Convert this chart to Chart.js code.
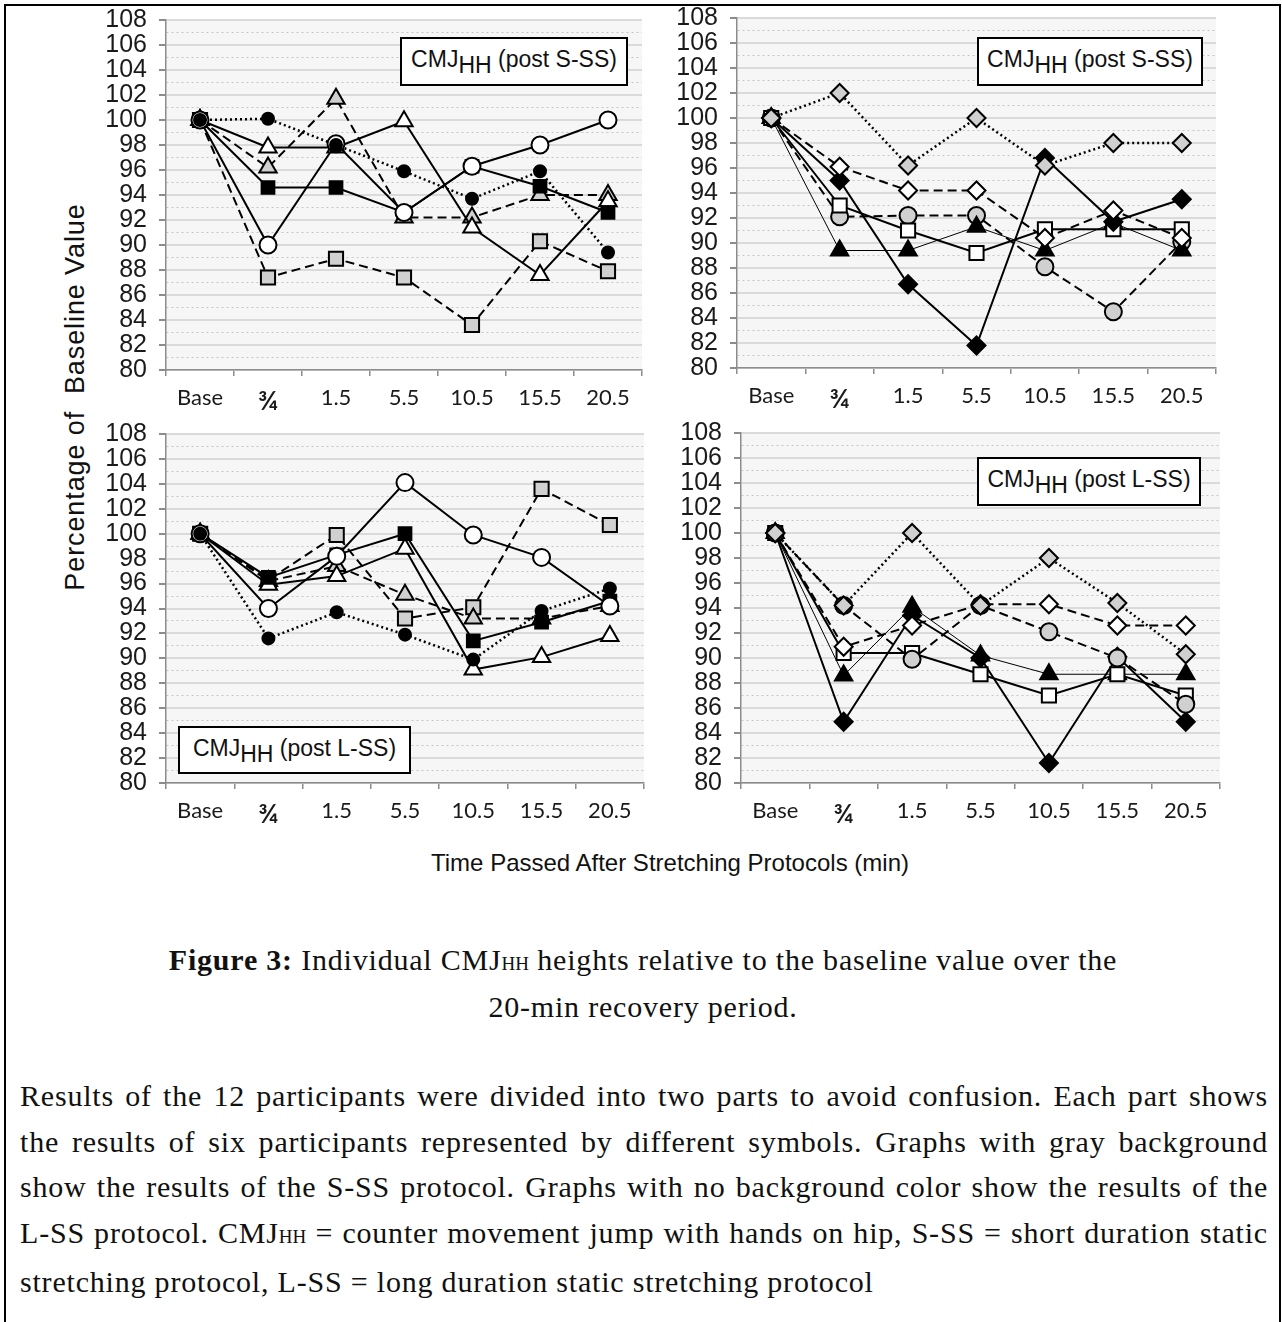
<!DOCTYPE html>
<html>
<head>
<meta charset="utf-8">
<script src="https://cdn.jsdelivr.net/npm/chart.js@4.4.0/dist/chart.umd.min.js"></script>
<style>
  body { margin: 0; background: #fff; width: 1282px; height: 1322px; position: relative; overflow: hidden; }
  #frame { position: absolute; left: 4px; top: 4px; width: 1273px; height: 1340px; border: 2px solid #000; }
  canvas { position: absolute; }
  .tag { position: absolute; background: #fff; border: 2px solid #000; box-sizing: border-box;
         font: 23px 'Liberation Sans', Arial, sans-serif; color: #111; white-space: nowrap;
         text-align: center; line-height: 40px; }
  .tag sub { font-size: 23px; vertical-align: -6px; line-height: 0; }
  #ytitle { position: absolute; left: -134px; top: 381px; width: 420px; height: 32px; text-align: center;
            font: 27px 'Liberation Sans', Arial, sans-serif; color: #111; letter-spacing: 0.9px;
            transform: rotate(-90deg); white-space: pre; }
  #xtitle { position: absolute; left: 370px; top: 849px; width: 600px; text-align: center;
            font: 24px 'Liberation Sans', Arial, sans-serif; color: #111; }
  #caption { position: absolute; left: 0; top: 938px; width: 1286px; text-align: center;
             font: 30px 'Liberation Serif', serif; color: #111; line-height: 43px; letter-spacing: 0.8px; }
  #para { position: absolute; left: 20px; top: 1073px; width: 1248px; letter-spacing: 0.8px;
          font: 30px 'Liberation Serif', serif; color: #111; line-height: 45.5px; }
  #para .j { text-align: justify; text-align-last: justify; }
  .sc { font-size: 19px; letter-spacing: 0; }
</style>
</head>
<body>
<div id="frame"></div>
<canvas id="c1"></canvas>
<canvas id="c2"></canvas>
<canvas id="c3"></canvas>
<canvas id="c4"></canvas>

<div class="tag" style="left:400px;top:37px;width:228px;height:49px;"><span>CMJ<sub>HH</sub> (post S-SS)</span></div>
<div class="tag" style="left:977px;top:37px;width:226px;height:49px;"><span>CMJ<sub>HH</sub> (post S-SS)</span></div>
<div class="tag" style="left:178px;top:726px;width:233px;height:48px;"><span>CMJ<sub>HH</sub> (post L-SS)</span></div>
<div class="tag" style="left:977px;top:457px;width:224px;height:49px;"><span>CMJ<sub>HH</sub> (post L-SS)</span></div>

<div id="ytitle">Percentage of  Baseline Value</div>
<div id="xtitle">Time Passed After Stretching Protocols (min)</div>

<div id="caption"><b>Figure 3:</b> Individual CMJ<span class="sc">HH</span> heights relative to the baseline value over the<br>20-min recovery period.</div>

<div id="para">
  <div class="j">Results of the 12 participants were divided into two parts to avoid confusion. Each part shows</div>
  <div class="j">the results of six participants represented by different symbols. Graphs with gray background</div>
  <div class="j">show the results of the S-SS protocol. Graphs with no background color show the results of the</div>
  <div class="j">L-SS protocol. CMJ<span class="sc">HH</span> = counter movement jump with hands on hip, S-SS = short duration static</div>
  <div>stretching protocol, L-SS = long duration static stretching protocol</div>
</div>

<script>
const categories = ['Base', '¾', '1.5', '5.5', '10.5', '15.5', '20.5'];
const yMin = 80;
const yMax = 108;

// post S-SS, participants 1-6 (top left)
const ssA_filledCircle = [100, 100.1, 98, 95.9, 93.7, 95.9, 89.4];
const ssA_openCircle   = [100, 90, 98.1, 92.6, 96.3, 98, 100];
const ssA_filledSquare = [100, 94.6, 94.6, 92.6, 96.3, 94.7, 92.6];
const ssA_openTriangle = [100, 97.8, 97.8, 99.9, 91.4, 87.6, 93.5];
const ssA_grayTriangle = [100, 96.2, 101.7, 92.2, 92.2, 94, 94];
const ssA_graySquare   = [100, 87.4, 88.9, 87.4, 83.6, 90.3, 87.9];

// post S-SS, participants 7-12 (top right)
const ssB_grayDiamond  = [100, 102, 96.2, 100, 96.2, 98, 98];
const ssB_openDiamond  = [100, 96.1, 94.2, 94.2, 90.4, 92.6, 90.4];
const ssB_blackDiamond = [100, 95, 86.7, 81.8, 96.8, 91.7, 93.5];
const ssB_openSquare   = [100, 93, 91, 89.2, 91.1, 91.1, 91.1];
const ssB_blackTriangle = [100, 89.4, 89.4, 91.3, 89.4, 91.6, 89.4];
const ssB_grayCircle   = [100, 92.1, 92.2, 92.2, 88.1, 84.5, 90.1];

// post L-SS, participants 1-6 (bottom left)
const lsA_filledCircle = [100, 91.6, 93.7, 91.9, 89.9, 93.8, 95.6];
const lsA_openCircle   = [100, 94, 98.2, 104.1, 99.9, 98.1, 94.2];
const lsA_filledSquare = [100, 96.5, 98.3, 100, 91.4, 92.9, 94.6];
const lsA_openTriangle = [100, 95.9, 96.6, 98.8, 89.1, 90.1, 91.8];
const lsA_grayTriangle = [100, 96.2, 97.4, 95.1, 93.2, 93.2, 94.2];
const lsA_graySquare   = [100, 96.3, 99.9, 93.2, 94.1, 103.6, 100.7];

// post L-SS, participants 7-12 (bottom right)
const lsB_grayDiamond  = [100, 94.2, 100, 94.2, 98, 94.4, 90.3];
const lsB_grayCircle   = [100, 94.2, 89.9, 94.2, 92.1, 90, 86.3];
const lsB_openDiamond  = [100, 90.9, 92.6, 94.3, 94.3, 92.6, 92.6];
const lsB_openSquare   = [100, 90.4, 90.4, 88.7, 87, 88.7, 87];
const lsB_blackTriangle = [100, 88.6, 94.1, 90.2, 88.7, 88.7, 88.7];
const lsB_blackDiamond = [100, 84.9, 93.4, 90, 81.6, 90.1, 84.9];

const GRAY = '#d0d0d0';
const DOT = [2, 3];
const DASH = [9, 5];
const looks = {
    dotCircle:   { style: 'circle',   r: 6,  fill: '#000', dash: DOT,  w: 2.5 },
    openCircle:  { style: 'circle',   r: 8.5, fill: '#fff', dash: [],  w: 2 },
    blackSquare: { style: 'rect',     r: 9,  fill: '#000', dash: [],   w: 2 },
    openTri:     { style: 'triangle', r: 10, fill: '#fff', dash: [],   w: 2 },
    grayTri:     { style: 'triangle', r: 10, fill: GRAY,   dash: DASH, w: 2 },
    graySquare:  { style: 'rect',     r: 10, fill: GRAY,   dash: DASH, w: 2 },
    grayDiamond: { style: 'rectRot',  r: 9,  fill: GRAY,   dash: DOT,  w: 2.5 },
    openDiamond: { style: 'rectRot',  r: 9,  fill: '#fff', dash: DASH, w: 2 },
    blackDiamond:{ style: 'rectRot',  r: 9,  fill: '#000', dash: [],   w: 2 },
    openSquare:  { style: 'rect',     r: 10, fill: '#fff', dash: [],   w: 2 },
    blackTri:    { style: 'triangle', r: 10, fill: '#000', dash: [],   w: 1 },
    grayCircle:  { style: 'circle',   r: 8.5, fill: GRAY,  dash: DASH, w: 2 },
};

function ds(values, key) {
    const l = looks[key];
    return {
        data: values,
        borderColor: '#000',
        borderWidth: l.w,
        borderDash: l.dash,
        pointStyle: l.style,
        pointRadius: l.r,
        pointBackgroundColor: l.fill,
        pointBorderColor: '#000',
        pointBorderWidth: 2,
        fill: false,
        tension: 0,
    };
}

const plotBg = {
    id: 'plotBg',
    beforeDraw(chart) {
        const { ctx, chartArea: a } = chart;
        ctx.save();
        ctx.fillStyle = '#f6f6f6';
        ctx.fillRect(a.left, a.top, a.width, a.height);
        ctx.restore();
    },
};

const AXIS = '#8c8c8c';
const isOdd = c => c.tick && Math.round(c.tick.value) % 2 !== 0;
const xFont = { family: 'Lato', size: 22 };
const xFontFrac = { family: 'Lato', size: 27, weight: 'bold' };

function makePanel(id, area, datasets) {
    const yw = 70, xh = 40, padTop = 15, padRight = 10, padBottom = 5;
    const canvas = document.getElementById(id);
    const left = area.l - yw, top = area.t - padTop;
    canvas.width = area.r - left + padRight;
    canvas.height = area.b - top + xh + padBottom;
    canvas.style.left = left + 'px';
    canvas.style.top = top + 'px';

    new Chart(canvas, {
        type: 'line',
        data: { labels: categories, datasets: datasets },
        plugins: [plotBg],
        options: {
            responsive: false,
            animation: false,
            events: [],
            layout: { padding: { top: padTop, right: padRight, bottom: padBottom, left: 0 } },
            plugins: { legend: { display: false }, tooltip: { enabled: false } },
            scales: {
                x: {
                    offset: true,
                    afterFit(s) { s.height = xh; s.paddingLeft = 0; s.paddingRight = 0; },
                    border: { color: AXIS, width: 1.5 },
                    grid: { offset: true, drawOnChartArea: false, tickLength: 6, color: AXIS, lineWidth: 1.5 },
                    ticks: { padding: 9, color: '#1a1a1a', autoSkip: false, maxRotation: 0,
                             font: c => (c.index === 1 ? xFontFrac : xFont) },
                },
                y: {
                    min: yMin,
                    max: yMax,
                    afterFit(s) { s.width = yw; s.paddingTop = 0; s.paddingBottom = 0; },
                    border: { color: AXIS, width: 1.5, dash: c => isOdd(c) ? [2, 3] : [] },
                    grid: {
                        color: c => isOdd(c) ? '#c6c6c6' : '#dadada',
                        lineWidth: c => isOdd(c) ? 1 : 2,
                        tickLength: 7,
                        tickColor: c => isOdd(c) ? 'rgba(0,0,0,0)' : AXIS,
                    },
                    ticks: {
                        stepSize: 1,
                        autoSkip: false,
                        padding: 12,
                        color: '#1a1a1a',
                        font: { family: "'Liberation Sans Narrow', 'Arial Narrow', 'Liberation Sans'", size: 25 },
                        callback: v => (v % 2 === 0 ? v : ''),
                    },
                },
            },
        },
    });
}

makePanel('c1', { l: 166, r: 644, t: 20, b: 370 }, [
    ds(ssA_filledCircle, 'dotCircle'),
    ds(ssA_openCircle, 'openCircle'),
    ds(ssA_filledSquare, 'blackSquare'),
    ds(ssA_openTriangle, 'openTri'),
    ds(ssA_grayTriangle, 'grayTri'),
    ds(ssA_graySquare, 'graySquare'),
]);

makePanel('c2', { l: 737, r: 1218, t: 18, b: 368 }, [
    ds(ssB_grayDiamond, 'grayDiamond'),
    ds(ssB_openDiamond, 'openDiamond'),
    ds(ssB_blackDiamond, 'blackDiamond'),
    ds(ssB_openSquare, 'openSquare'),
    ds(ssB_blackTriangle, 'blackTri'),
    ds(ssB_grayCircle, 'grayCircle'),
]);

makePanel('c3', { l: 166, r: 646, t: 434, b: 783 }, [
    ds(lsA_filledCircle, 'dotCircle'),
    ds(lsA_openCircle, 'openCircle'),
    ds(lsA_filledSquare, 'blackSquare'),
    ds(lsA_openTriangle, 'openTri'),
    ds(lsA_grayTriangle, 'grayTri'),
    ds(lsA_graySquare, 'graySquare'),
]);

makePanel('c4', { l: 741, r: 1222, t: 433, b: 783 }, [
    ds(lsB_grayDiamond, 'grayDiamond'),
    ds(lsB_grayCircle, 'grayCircle'),
    ds(lsB_openDiamond, 'openDiamond'),
    ds(lsB_openSquare, 'openSquare'),
    ds(lsB_blackTriangle, 'blackTri'),
    ds(lsB_blackDiamond, 'blackDiamond'),
]);
</script>
</body>
</html>
